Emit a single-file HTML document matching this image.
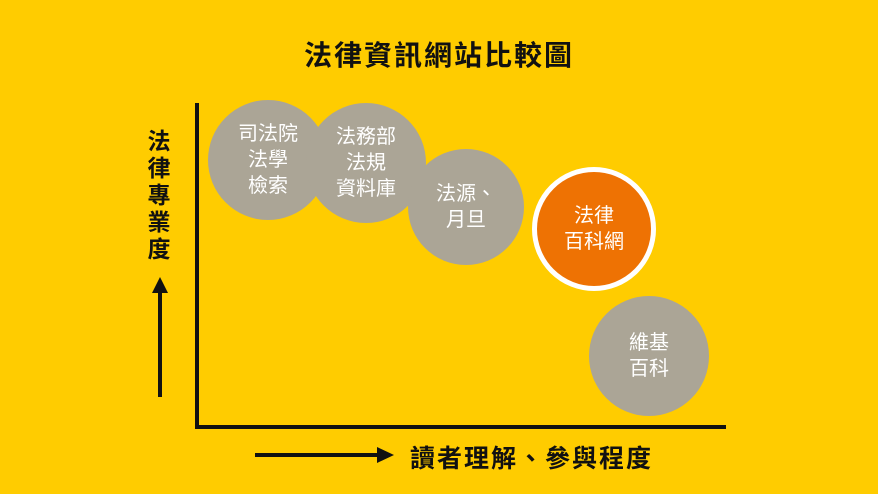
<!DOCTYPE html>
<html><head><meta charset="utf-8"><style>
body{margin:0;width:878px;height:494px;background:#FFCC00;overflow:hidden;position:relative;font-family:"Liberation Sans","Noto Sans CJK TC",sans-serif}
.c{position:absolute;border-radius:50%;background:#ABA596;color:#fff;display:flex;align-items:center;justify-content:center;text-align:center;font-size:20px;font-weight:normal;line-height:26px}
.t{position:absolute;font-weight:bold;color:#111}
</style></head><body>
<div class="t" style="left:0;width:878px;top:34px;text-align:center;font-size:28px;letter-spacing:2px">法律資訊網站比較圖</div>
<div class="t" style="left:144px;top:128px;width:30px;font-size:23px;line-height:27px;text-align:center">法<br>律<br>專<br>業<br>度</div>
<div class="t" style="left:410px;top:439px;font-size:25px;letter-spacing:2px">讀者理解、參與程度</div>
<svg width="878" height="494" style="position:absolute;left:0;top:0">
<line x1="197" y1="103" x2="197" y2="429" stroke="#111" stroke-width="4"/>
<line x1="195" y1="427" x2="726" y2="427" stroke="#111" stroke-width="4"/>
<line x1="160" y1="397" x2="160" y2="292" stroke="#111" stroke-width="4"/>
<polygon points="152,293 168,293 160,277" fill="#111"/>
<line x1="255" y1="455" x2="378" y2="455" stroke="#111" stroke-width="4"/>
<polygon points="377,447 377,463 394,455" fill="#111"/>
</svg>
<div class="c" style="left:208px;top:100px;width:120px;height:120px">司法院<br>法學<br>檢索</div>
<div class="c" style="left:306px;top:103px;width:120px;height:120px">法務部<br>法規<br>資料庫</div>
<div class="c" style="left:408px;top:149px;width:116px;height:116px">法源、<br>月旦</div>
<div class="c" style="left:532px;top:167px;width:114px;height:114px;background:#EE7203;border:5px solid #fff">法律<br>百科網</div>
<div class="c" style="left:589px;top:296px;width:120px;height:120px">維基<br>百科</div>
</body></html>
